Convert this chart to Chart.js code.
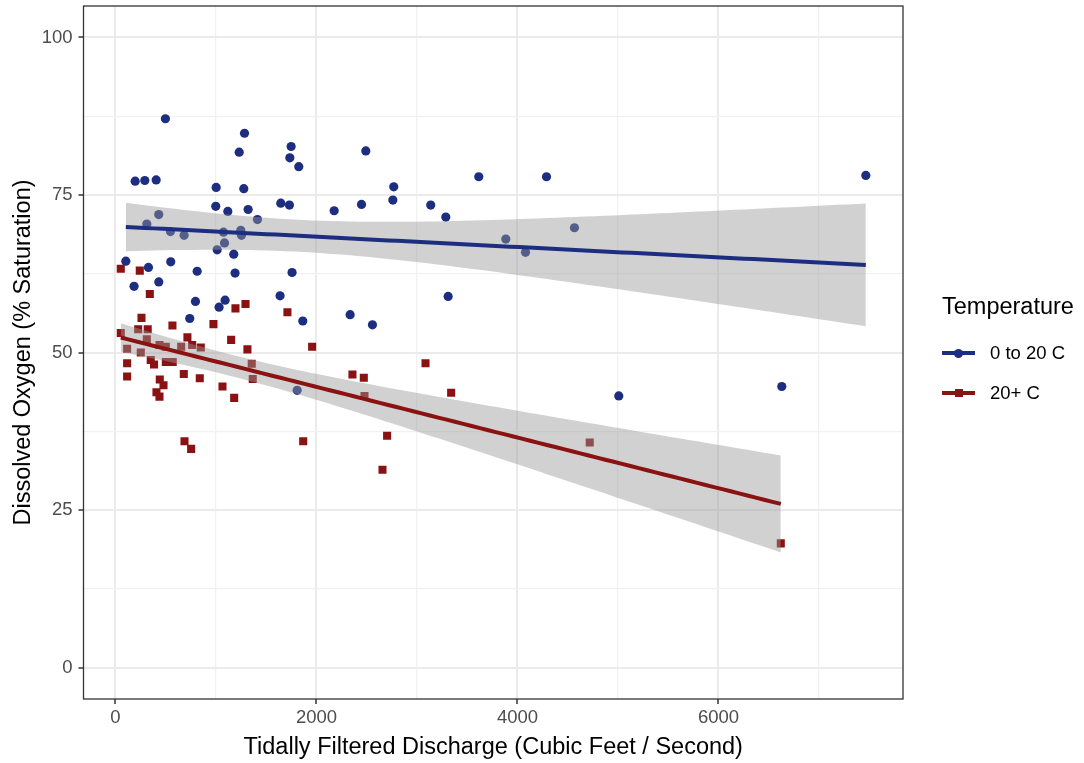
<!DOCTYPE html>
<html>
<head>
<meta charset="utf-8">
<script src="https://cdn.jsdelivr.net/npm/chart.js@4.4.0/dist/chart.umd.min.js"></script>
<style>
	html, body { margin: 0; padding: 0; background: #ffffff; }
	#wrap { position: relative; width: 1084px; height: 763px; }
	#legend-container {
		position: absolute;
		left: 942px;
		top: 291px;
		font-family: 'Liberation Sans', Arial, sans-serif;
		color: #000000;
	}
	#legend-container .legend-title { font-size: 23.5px; line-height: 30px; margin-bottom: 12px; }
	#legend-container ul { list-style: none; margin: 0; padding: 0; }
	#legend-container li { display: flex; align-items: center; height: 40px; font-size: 18.5px; }
</style>
</head>
<body>
<div id="wrap">
	<canvas id="chart" width="1084" height="763"></canvas>
	<div id="legend-container"></div>
</div>
<script>
// discharge (cfs) and dissolved oxygen (% sat), group 0 to 20 C
const coolQ = [497, 1284, 1231, 1748, 1735, 1824, 196, 292, 405, 1002, 1277, 998, 1118, 1320, 1645,
	1731, 431, 1413, 312, 547, 683, 1075, 1247, 1254, 1085, 1012, 1177, 103, 328, 550, 813, 1190, 1757,
	185, 431, 796, 1031, 1091, 1638, 739, 1864, 1808, 3310, 2335, 2557, 5008, 2491, 3615, 4289, 2769,
	2760, 2448, 2176, 3137, 3287, 4567, 3884, 4080, 7466, 6630];
const coolDO = [87.1, 84.8, 81.8, 82.7, 80.9, 79.5, 77.2, 77.3, 77.4, 76.2, 76.0, 73.2, 72.4, 72.7, 73.7,
	73.4, 71.9, 71.1, 70.4, 69.2, 68.6, 69.1, 69.4, 68.6, 67.4, 66.3, 65.6, 64.5, 63.5, 64.4, 62.9, 62.6, 62.7,
	60.5, 61.2, 58.1, 57.2, 58.3, 59.0, 55.4, 55.0, 44.0, 58.9, 56.0, 54.4, 43.1, 82.0, 77.9, 77.9, 76.3,
	74.2, 73.5, 72.5, 73.4, 71.5, 69.8, 68.0, 65.9, 78.1, 44.6];

// group 20+ C
const warmQ = [53, 242, 342, 259, 1194, 1294, 1711, 567, 975, 226, 321, 53, 116, 252, 312, 438, 501,
	351, 384, 501, 570, 116, 116, 680, 839, 441, 478, 408, 438, 716, 654, 763, 849, 1151, 1313, 1356,
	1366, 1065, 1181, 687, 753, 1868, 1957, 3085, 2358, 2471, 2478, 3340, 2703, 2657, 4719, 6620];
const warmDO = [63.3, 63.0, 59.3, 55.5, 57.0, 57.7, 56.4, 54.3, 54.5, 53.7, 53.7, 53.1, 50.6, 50.0, 52.1,
	51.2, 50.9, 48.8, 48.1, 48.5, 48.5, 48.3, 46.2, 46.6, 45.9, 45.7, 44.8, 43.7, 43.0, 52.4, 50.9, 51.2,
	50.8, 52.0, 50.5, 48.2, 45.8, 44.6, 42.8, 35.9, 34.7, 35.9, 50.9, 48.3, 46.5, 46.0, 43.1, 43.6, 36.8,
	31.4, 35.7, 19.7];

const groupLabels = ['0 to 20 C', '20+ C'];
const groupColors = ['#1d2e80', '#8a1212'];
const xTicks = [0, 1000, 2000, 3000, 4000, 5000, 6000, 7000];
const yTicks = [0, 12.5, 25, 37.5, 50, 62.5, 75, 87.5, 100];

Chart.defaults.font.family = "'Liberation Sans', Arial, sans-serif";

// linear model with 95% confidence band, like geom_smooth(method = "lm")
function lmBand(xs, ys, steps) {
	const n = xs.length;
	const mx = xs.reduce((a, b) => a + b, 0) / n;
	const my = ys.reduce((a, b) => a + b, 0) / n;
	let sxx = 0, sxy = 0;
	for (let i = 0; i < n; i++) {
		sxx += (xs[i] - mx) ** 2;
		sxy += (xs[i] - mx) * (ys[i] - my);
	}
	const slope = sxy / sxx;
	const icpt = my - slope * mx;
	let sse = 0;
	for (let i = 0; i < n; i++) sse += (ys[i] - icpt - slope * xs[i]) ** 2;
	const s = Math.sqrt(sse / (n - 2));
	const df = n - 2, z = 1.959964;
	const t = z + (z ** 3 + z) / (4 * df) + (5 * z ** 5 + 16 * z ** 3 + 3 * z) / (96 * df * df);
	const lo = Math.min(...xs), hi = Math.max(...xs);
	const fit = [], upper = [], lower = [];
	for (let k = 0; k < steps; k++) {
		const x = lo + (hi - lo) * k / (steps - 1);
		const y = icpt + slope * x;
		const se = s * Math.sqrt(1 / n + (x - mx) ** 2 / sxx);
		fit.push({x, y});
		upper.push({x, y: y + t * se});
		lower.push({x, y: y - t * se});
	}
	return {fit, upper, lower};
}

const toPoints = (xs, ys) => xs.map((x, i) => ({x, y: ys[i]}));

const groups = [
	{q: coolQ, d: coolDO, style: 'circle', radius: 4.6},
	{q: warmQ, d: warmDO, style: 'rect', radius: 5.7},
];

const datasets = [];
groups.forEach((g, i) => {
	datasets.push({
		type: 'scatter',
		label: groupLabels[i],
		data: toPoints(g.q, g.d),
		pointStyle: g.style,
		pointRadius: g.radius,
		pointBorderWidth: 0,
		backgroundColor: groupColors[i],
		borderColor: groupColors[i],
		order: 5,
	});
});
groups.forEach((g, i) => {
	const band = lmBand(g.q, g.d, 80);
	datasets.push({
		type: 'line',
		label: 'band-hi',
		data: band.upper,
		borderWidth: 0,
		pointRadius: 0,
		backgroundColor: 'rgba(153, 153, 153, 0.45)',
		fill: '+1',
		order: 3,
	});
	datasets.push({
		type: 'line',
		label: 'band-lo',
		data: band.lower,
		borderWidth: 0,
		pointRadius: 0,
		fill: false,
		order: 3,
	});
	datasets.push({
		type: 'line',
		label: groupLabels[i] + ' fit',
		data: band.fit,
		borderColor: groupColors[i],
		borderWidth: 4,
		pointRadius: 0,
		fill: false,
		order: 2,
	});
});

const panelBorder = {
	id: 'panelBorder',
	afterDatasetsDraw(chart) {
		const {ctx, chartArea: a} = chart;
		ctx.save();
		ctx.strokeStyle = '#333333';
		ctx.lineWidth = 1.3;
		ctx.strokeRect(a.left, a.top, a.right - a.left, a.bottom - a.top);
		ctx.restore();
	}
};

const isMajorX = v => v % 2000 === 0;
const isMajorY = v => v % 25 === 0;

const config = {
	type: 'scatter',
	data: {datasets},
	options: {
		responsive: false,
		animation: false,
		events: [],
		layout: {padding: {left: 0, right: 181, top: 6, bottom: 0}},
		plugins: {
			legend: {display: false},
			tooltip: {enabled: false},
		},
		scales: {
			x: {
				type: 'linear',
				min: -318,
				max: 7836,
				afterBuildTicks: s => { s.ticks = xTicks.map(v => ({value: v})); },
				afterFit: s => { s.height = 64; s.paddingLeft = 0; s.paddingRight = 0; },
				border: {display: false},
				grid: {
					color: c => isMajorX(c.tick.value) ? '#ebebeb' : '#f1f1f1',
					lineWidth: c => isMajorX(c.tick.value) ? 2 : 1.2,
					tickLength: 5,
					tickWidth: 1.5,
					tickColor: c => isMajorX(c.tick.value) ? '#333333' : 'rgba(0,0,0,0)',
				},
				ticks: {
					autoSkip: false,
					maxRotation: 0,
					padding: 3,
					color: '#4d4d4d',
					font: {size: 18.5},
					callback: v => isMajorX(v) ? String(v) : '',
				},
				title: {
					display: true,
					text: 'Tidally Filtered Discharge (Cubic Feet / Second)',
					color: '#000000',
					font: {size: 23.5},
					padding: {top: 0, bottom: 1},
				},
			},
			y: {
				type: 'linear',
				min: -5,
				max: 105,
				afterBuildTicks: s => { s.ticks = yTicks.map(v => ({value: v})); },
				afterFit: s => { s.width = 83.5; s.paddingTop = 0; s.paddingBottom = 0; },
				border: {display: false},
				grid: {
					color: c => isMajorY(c.tick.value) ? '#ebebeb' : '#f1f1f1',
					lineWidth: c => isMajorY(c.tick.value) ? 2 : 1.2,
					tickLength: 5,
					tickWidth: 1.5,
					tickColor: c => isMajorY(c.tick.value) ? '#333333' : 'rgba(0,0,0,0)',
				},
				ticks: {
					autoSkip: false,
					padding: 6,
					color: '#4d4d4d',
					font: {size: 18.5},
					callback: v => isMajorY(v) ? String(v) : '',
				},
				title: {
					display: true,
					text: 'Dissolved Oxygen (% Saturation)',
					color: '#000000',
					font: {size: 23.5},
					padding: {top: 9, bottom: 0},
				},
			},
		},
	},
	plugins: [panelBorder],
};

const chart = new Chart(document.getElementById('chart').getContext('2d'), config);

// legend
const legendContainer = document.getElementById('legend-container');
const legendTitle = document.createElement('div');
legendTitle.className = 'legend-title';
legendTitle.textContent = 'Temperature';
legendContainer.appendChild(legendTitle);
const ul = document.createElement('ul');
legendContainer.appendChild(ul);
groupLabels.forEach((label, i) => {
	const li = document.createElement('li');
	const key = document.createElement('span');
	key.style.position = 'relative';
	key.style.display = 'inline-block';
	key.style.width = '33px';
	key.style.height = '14px';
	key.style.marginRight = '15px';
	const line = document.createElement('span');
	line.style.position = 'absolute';
	line.style.left = '0';
	line.style.top = '5px';
	line.style.width = '33px';
	line.style.height = '4px';
	line.style.background = groupColors[i];
	const mark = document.createElement('span');
	mark.style.position = 'absolute';
	mark.style.background = groupColors[i];
	if (groups[i].style === 'circle') {
		mark.style.left = '12px'; mark.style.top = '2.5px';
		mark.style.width = '9px'; mark.style.height = '9px';
		mark.style.borderRadius = '50%';
	} else {
		mark.style.left = '12.5px'; mark.style.top = '3px';
		mark.style.width = '8px'; mark.style.height = '8px';
	}
	key.appendChild(line);
	key.appendChild(mark);
	const text = document.createElement('span');
	text.textContent = label;
	li.appendChild(key);
	li.appendChild(text);
	ul.appendChild(li);
});
</script>
</body>
</html>
